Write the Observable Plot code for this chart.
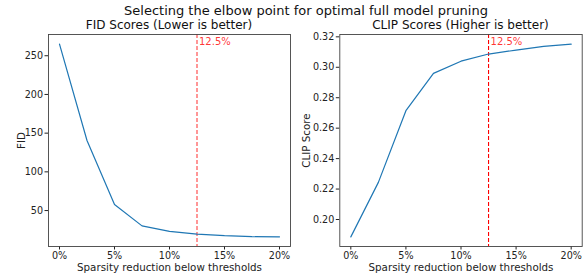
<!DOCTYPE html>
<html>
<head>
<meta charset="utf-8">
<script src="https://cdn.jsdelivr.net/npm/d3@7"></script>
<script src="https://cdn.jsdelivr.net/npm/@observablehq/plot@0.6"></script>
<style>
  html, body { margin: 0; padding: 0; background: white; }
  #wrap { position: relative; width: 585px; height: 275px; overflow: hidden; font-family: "DejaVu Sans", sans-serif; color: #111; }
  .t { position: absolute; white-space: nowrap; transform: translateX(-50%); }
  #main { left: 306px; top: 3px; font-size: 13px; }
  #t1 { left: 169px; top: 18px; font-size: 12px; }
  #t2 { left: 460.5px; top: 18px; font-size: 12px; }
  #p1 { position: absolute; left: 0px; top: 30px; }
  #p2 { position: absolute; left: 292px; top: 30px; }
</style>
</head>
<body>
<div id="wrap">
  <div id="main" class="t">Selecting the elbow point for optimal full model pruning</div>
  <div id="t1" class="t">FID Scores (Lower is better)</div>
  <div id="t2" class="t">CLIP Scores (Higher is better)</div>
  <div id="p1"></div>
  <div id="p2"></div>
</div>
<script>
const sparsity = [0, 2.5, 5, 7.5, 10, 12.5, 15, 17.5, 20];
const fidScores = [265, 140.5, 57.7, 30.2, 23, 19.6, 17.5, 16.2, 16];
const clipScores = [0.1886, 0.2244, 0.2715, 0.296, 0.304, 0.3087, 0.3113, 0.3137, 0.3152];
const elbow = [12.5];
const elbowLabel = "12.5%";
const xTicks = [0, 5, 10, 15, 20];
const fidTicks = [50, 100, 150, 200, 250];
const clipTicks = [0.20, 0.22, 0.24, 0.26, 0.28, 0.30, 0.32];
const xLabel = "Sparsity reduction below thresholds";

function pad(ext) { const r = ext[1] - ext[0]; return [ext[0] - 0.05 * r, ext[1] + 0.05 * r]; }

function makePlot(values, yTicks, yFmt, yLabel, opts) {
  const data = sparsity.map((s, i) => ({s, v: values[i]}));
  const ymax = d3.max(values);
  return Plot.plot({
    width: opts.width, height: 245,
    marginTop: 4, marginBottom: 29, marginLeft: opts.ml, marginRight: opts.mr,
    style: {fontFamily: "DejaVu Sans", fontSize: "9.6px", color: "#222", background: "transparent", overflow: "visible"},
    x: {domain: pad(d3.extent(sparsity))},
    y: {domain: pad(d3.extent(values))},
    marks: [
      Plot.axisX({ticks: xTicks, tickFormat: d => d + "%", tickSize: 3.5, tickPadding: 2, label: null, fontSize: 9.6}),
      Plot.axisX({ticks: [], tickSize: 0, label: xLabel, labelAnchor: "center", labelArrow: "none", labelOffset: 24, fontSize: 10.3}),
      Plot.axisY({ticks: yTicks, tickFormat: yFmt, tickSize: 3.5, tickPadding: 2, label: null, fontSize: 9.6}),
      Plot.axisY({ticks: [], tickSize: 0, label: yLabel, labelAnchor: "center", labelArrow: "none", labelOffset: opts.lo, fontSize: 10.3}),
      Plot.ruleX(elbow, {stroke: "red", strokeDasharray: "4,2", strokeOpacity: opts.ro, strokeWidth: 1.1}),
      Plot.line(data, {x: "s", y: "v", stroke: "#1f77b4", strokeWidth: 1.2}),
      Plot.text(elbow, {x: d => d, y: () => ymax, text: () => elbowLabel, fill: "red", fillOpacity: 0.8, textAnchor: "start", lineAnchor: "bottom", dx: 2, dy: 1, fontSize: 10}),
      Plot.frame({stroke: "#444", strokeWidth: 0.9})
    ]
  });
}

document.getElementById("p1").append(makePlot(fidScores, fidTicks, d => String(d), "FID", {width: 295, ml: 48, mr: 5, lo: 31, ro: 0.75}));
document.getElementById("p2").append(makePlot(clipScores, clipTicks, d => d.toFixed(2), "CLIP Score", {width: 293, ml: 47.3, mr: 3.3, lo: 37, ro: 1}));
</script>
</body>
</html>
